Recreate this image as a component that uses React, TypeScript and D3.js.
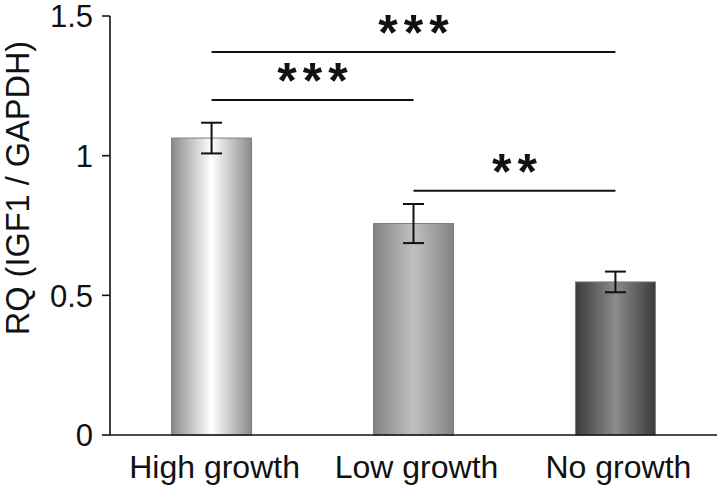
import * as d3 from "d3";
import React from "react";

// group names and means
const groups = ["High growth", "Low growth", "No growth"];
const means = [1.063, 0.757, 0.548];
const errors = [0.055, 0.07, 0.037];
const yTickValues = [0, 0.5, 1, 1.5];

// significance brackets: from group, to group, height (y units), label
const sigFrom = [0, 0, 1];
const sigTo = [2, 1, 2];
const sigLevel = [1.371, 1.199, 0.874];
const sigLabels = ["***", "***", "**"];

// bar shading: edge colour, centre colour
const barEdge = ["#8a8a8a", "#828282", "#3a3a3a"];
const barCentre = ["#ffffff", "#c0c0c0", "#8c8c8c"];

const font = "'Liberation Sans', Arial, Helvetica, sans-serif";

export default function App() {
  const width = 720;
  const height = 486;
  const marginLeft = 110;
  const marginRight = 3;
  const marginTop = 16;
  const marginBottom = 51;

  const x = d3
    .scaleBand<string>()
    .domain(groups)
    .range([marginLeft, width - marginRight])
    .paddingInner(0.604)
    .paddingOuter(0.305);

  const y = d3
    .scaleLinear()
    .domain([0, 1.5])
    .range([height - marginBottom, marginTop]);

  const cx = (i: number) => (x(groups[i]) ?? 0) + x.bandwidth() / 2;

  return (
    <svg
      width={width}
      height={height}
      style={{ position: "absolute", left: 0, top: 0, background: "#fff" }}
      fontFamily={font}
    >
      <defs>
        {groups.map((g, i) => (
          <linearGradient key={g} id={`grad${i}`} x1="0" x2="1" y1="0" y2="0">
            <stop offset="0%" stopColor={barEdge[i]} />
            <stop offset="50%" stopColor={barCentre[i]} />
            <stop offset="100%" stopColor={barEdge[i]} />
          </linearGradient>
        ))}
      </defs>

      {/* bars */}
      {groups.map((g, i) => (
        <rect
          key={g}
          x={x(g)}
          y={y(means[i])}
          width={x.bandwidth()}
          height={y(0) - y(means[i])}
          fill={`url(#grad${i})`}
          stroke="#7c7c7c"
          strokeWidth={1}
        />
      ))}

      {/* error bars */}
      <g stroke="#111" strokeWidth={2}>
        {groups.map((g, i) => (
          <g key={g}>
            <line x1={cx(i)} x2={cx(i)} y1={y(means[i] + errors[i])} y2={y(means[i] - errors[i])} />
            <line x1={cx(i) - 10.5} x2={cx(i) + 10.5} y1={y(means[i] + errors[i])} y2={y(means[i] + errors[i])} />
            <line x1={cx(i) - 10.5} x2={cx(i) + 10.5} y1={y(means[i] - errors[i])} y2={y(means[i] - errors[i])} />
          </g>
        ))}
      </g>

      {/* y-axis */}
      <g fontSize={31} textAnchor="end" fill="#111">
        <line x1={marginLeft} x2={marginLeft} y1={y(1.5)} y2={y(0)} stroke="#111" strokeWidth={1.6} />
        {yTickValues.map((v) => (
          <g key={v} transform={`translate(${marginLeft},${y(v)})`}>
            <line x1={-8} x2={0} stroke="#111" strokeWidth={1.6} />
            <text x={-17} dy="0.36em">
              {v}
            </text>
          </g>
        ))}
      </g>
      <text
        transform={`translate(29,188) rotate(-90)`}
        textAnchor="middle"
        fontSize={32.5}
        fill="#111"
      >
        RQ (IGF1 / GAPDH)
      </text>

      {/* x-axis */}
      <line
        x1={marginLeft}
        x2={width - marginRight}
        y1={y(0)}
        y2={y(0)}
        stroke="#111"
        strokeWidth={1.6}
      />
      <g fontSize={32} textAnchor="middle" fill="#111">
        {groups.map((g, i) => (
          <text key={g} x={cx(i) + 3} y={y(0) + 43}>
            {g}
          </text>
        ))}
      </g>

      {/* significance brackets */}
      {sigLabels.map((label, i) => {
        const x1 = cx(sigFrom[i]);
        const x2 = cx(sigTo[i]);
        return (
          <g key={i}>
            <line x1={x1} x2={x2} y1={y(sigLevel[i])} y2={y(sigLevel[i])} stroke="#111" strokeWidth={2} />
            <text
              x={(x1 + x2) / 2 + 3}
              y={y(sigLevel[i]) - 2}
              textAnchor="middle"
              fontSize={50}
              fontWeight="bold"
              letterSpacing={6}
              fill="#111"
            >
              {label}
            </text>
          </g>
        );
      })}
    </svg>
  );
}
